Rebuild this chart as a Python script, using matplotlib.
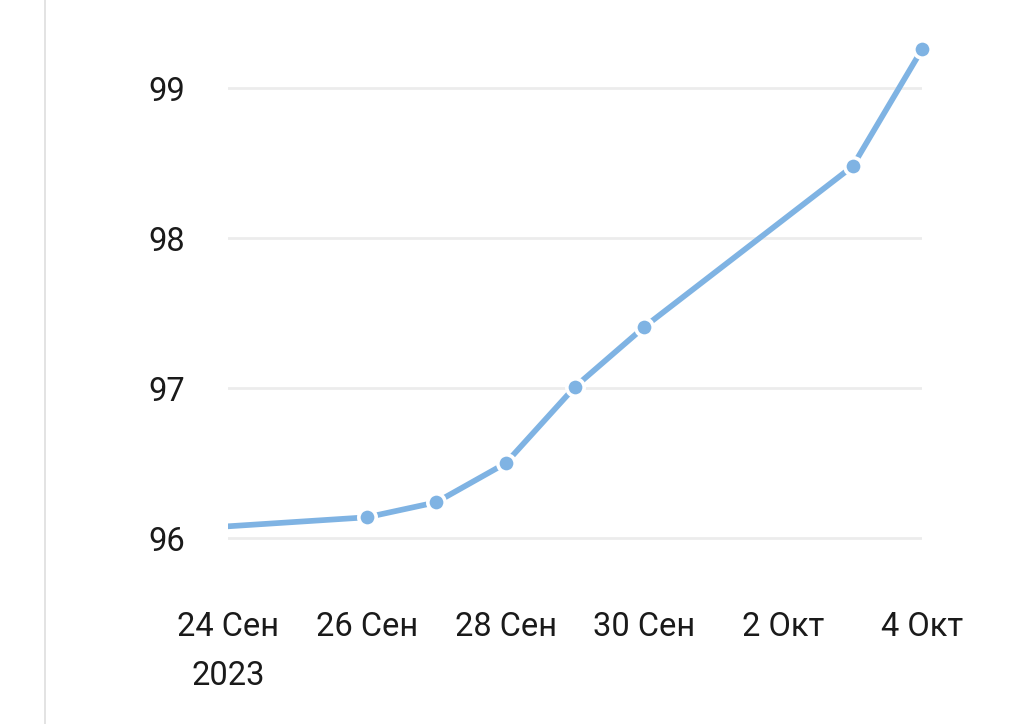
import matplotlib
matplotlib.use('Agg')
import matplotlib.pyplot as plt
from matplotlib.lines import Line2D
import numpy as np

plt.rcParams['font.family'] = ['Roboto', 'DejaVu Sans']

# data
dates = ['2023-09-22', '2023-09-26', '2023-09-27', '2023-09-28',
         '2023-09-29', '2023-09-30', '2023-10-03', '2023-10-04']
values = [96.02, 96.14, 96.24, 96.50, 97.01, 97.41, 98.48, 99.26]
tick_dates = ['2023-09-24', '2023-09-26', '2023-09-28', '2023-09-30',
              '2023-10-02', '2023-10-04']
tick_labels = ['24 Сен\n2023', '26 Сен', '28 Сен', '30 Сен', '2 Окт', '4 Окт']
y_ticks = [96, 97, 98, 99]

x = np.array(dates, dtype='datetime64[D]')
xt = np.array(tick_dates, dtype='datetime64[D]')

fig = plt.figure(figsize=(10.17, 7.24), dpi=100)
ax = fig.add_axes([228 / 1017, 144 / 724, 694 / 1017, 550 / 724])

# line is clipped at the left, markers may overflow at the right
ax.plot(x, values, color='#7fb3e3', lw=4.1, zorder=3)
ax.plot(x[1:], values[1:], ls='none', marker='o', ms=12.5, mfc='#7fb3e3',
        mec='white', mew=2.6, zorder=4, clip_on=False)

ax.set_xlim(xt[0], xt[-1])
ax.set_ylim(95.722, 99.389)
ax.set_yticks(y_ticks)
ax.set_yticklabels([str(v) for v in y_ticks])
ax.set_xticks(xt)
ax.set_xticklabels(tick_labels, linespacing=1.68, va='top')

ax.grid(axis='y', color='#ececec', lw=2)
ax.set_axisbelow(True)
for s in ax.spines.values():
    s.set_visible(False)
ax.tick_params(length=0, labelsize=23.5, colors='#1a1a1a')
ax.tick_params(axis='y', pad=31)
ax.tick_params(axis='x', pad=22)

# thin grey line at the left edge
fig.add_artist(Line2D([45 / 1017, 45 / 1017], [0, 1], color='#dedede', lw=1.2,
                      transform=fig.transFigure))

fig.savefig('out.png', dpi=100)
